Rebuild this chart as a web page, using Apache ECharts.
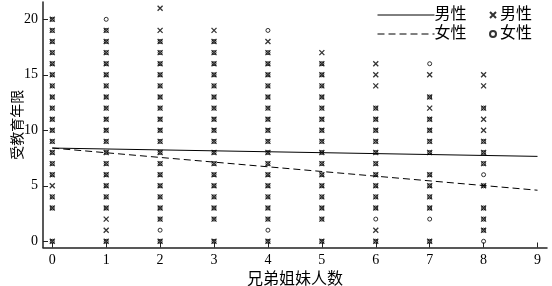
<!DOCTYPE html>
<html>
<head>
<meta charset="utf-8">
<script src="https://cdn.jsdelivr.net/npm/echarts@6/dist/echarts.min.js"></script>
<style>html,body{margin:0;padding:0;background:#fff}#c{width:552px;height:286px}</style>
</head>
<body>
<div id="c"></div>
<script>
// Siblings count (x categories)
var siblings = [0, 1, 2, 3, 4, 5, 6, 7, 8];
// Years of education observed for males, per sibling count
var maleYears = [
  [0,3,4,5,6,7,8,9,10,11,12,13,14,15,16,17,18,19,20],
  [0,1,2,3,4,5,6,7,8,9,10,11,12,13,14,15,16,17,18,19],
  [0,2,3,4,5,6,7,8,9,10,11,12,13,14,15,16,17,18,19,21],
  [0,2,3,4,5,6,7,8,9,10,11,12,13,14,15,16,17,18,19],
  [0,2,3,4,5,6,7,8,9,10,11,12,13,14,15,16,17,18],
  [0,2,3,4,5,6,7,8,9,10,11,12,13,14,15,16,17],
  [0,1,3,4,5,6,7,8,9,10,11,12,14,15,16],
  [0,3,4,5,6,8,9,10,11,12,13,15],
  [1,2,3,5,7,8,9,10,11,12,14,15]
];
// Years of education observed for females, per sibling count
var femaleYears = [
  [0,3,4,6,7,8,9,10,11,12,13,14,15,16,17,18,19,20],
  [0,3,4,5,6,7,8,9,10,11,12,13,14,15,16,17,18,19,20],
  [0,1,2,3,4,5,6,7,8,9,10,11,12,13,14,15,16,17,18],
  [0,2,3,4,5,6,7,8,9,10,11,12,13,14,15,16,17,18],
  [0,1,2,3,4,5,6,7,8,9,10,11,12,13,14,15,16,17,19],
  [0,2,3,4,5,6,7,8,9,10,11,12,13,14,15,16],
  [0,2,3,4,5,6,7,8,9,10,11,12],
  [0,2,3,4,5,6,8,9,10,11,13,16],
  [0,1,2,3,5,6,7,8,9,12]
];
// Fitted regression lines
var fitX = [0, 9];
var maleFit = [8.4, 7.65];
var femaleFit = [8.4, 4.6];
var xTicks = [0,1,2,3,4,5,6,7,8,9];
var yTicks = [0,5,10,15,20];

function pts(arr){var out=[];siblings.forEach(function(s,i){arr[i].forEach(function(v){out.push([s,v]);});});return out;}
function line(ys){return fitX.map(function(x,i){return [x,ys[i]];});}

var serif = '"Liberation Serif","Noto Sans CJK SC",serif';
var names = {lineM:'男性', lineF:'女性', ptM:'男性', ptF:'女性'};
var chart = echarts.init(document.getElementById('c'));
chart.setOption({
  animation:false,
  grid:{left:43,right:5,top:2,bottom:38.5,containLabel:false,outerBoundsMode:'none'},
  legend:[
    {orient:'vertical',left:372,top:2,itemWidth:57,itemHeight:12,itemGap:3,
     data:['lineM','lineF'],formatter:function(n){return names[n];},
     itemStyle:{opacity:0},lineStyle:{width:1},
     textStyle:{fontFamily:serif,fontSize:16,color:'#000',padding:[0,0,0,-5]}},
    {orient:'vertical',left:484,top:2,itemWidth:6,itemHeight:12,itemGap:3,
     data:['ptM','ptF'],formatter:function(n){return names[n];},
     textStyle:{fontFamily:serif,fontSize:16,color:'#000',padding:[0,0,0,-1]}}
  ],
  xAxis:{type:'value',min:-0.172,max:9.176,
    name:'兄弟姐妹人数',nameLocation:'middle',nameGap:24,nameMoveOverlap:false,
    nameTextStyle:{fontFamily:serif,fontSize:16,color:'#000'},
    axisLine:{onZero:false,lineStyle:{color:'#222',width:1.5}},
    axisTick:{inside:true,length:5,customValues:xTicks,lineStyle:{color:'#222'}},
    axisLabel:{customValues:xTicks,fontFamily:serif,fontSize:14,color:'#000',margin:6},
    splitLine:{show:false}},
  yAxis:{type:'value',min:-0.56,max:21.56,
    name:'受教育年限',nameLocation:'middle',nameGap:18,nameMoveOverlap:false,
    nameTextStyle:{fontFamily:serif,fontSize:14,color:'#000'},
    axisLine:{onZero:false,lineStyle:{color:'#222',width:1.5}},
    axisTick:{inside:true,length:5,customValues:yTicks,lineStyle:{color:'#222'}},
    axisLabel:{customValues:yTicks,fontFamily:serif,fontSize:14,color:'#000',margin:5},
    splitLine:{show:false}},
  series:[
    {name:'ptM',type:'scatter',data:pts(maleYears),symbol:'path://M0,0L10,10M10,0L0,10',symbolSize:5,
     itemStyle:{color:'rgba(0,0,0,0)',borderColor:'#000',borderWidth:1.3}},
    {name:'ptF',type:'scatter',data:pts(femaleYears),symbol:'circle',symbolSize:4,
     itemStyle:{color:'rgba(0,0,0,0)',borderColor:'#000',borderWidth:1}},
    {name:'lineM',type:'line',data:line(maleFit),symbol:'none',
     lineStyle:{color:'#000',width:1,type:'solid'},itemStyle:{color:'#000'}},
    {name:'lineF',type:'line',data:line(femaleFit),symbol:'none',
     lineStyle:{color:'#000',width:1,type:[7,4]},itemStyle:{color:'#000'}}
  ]
});
</script>
</body>
</html>
